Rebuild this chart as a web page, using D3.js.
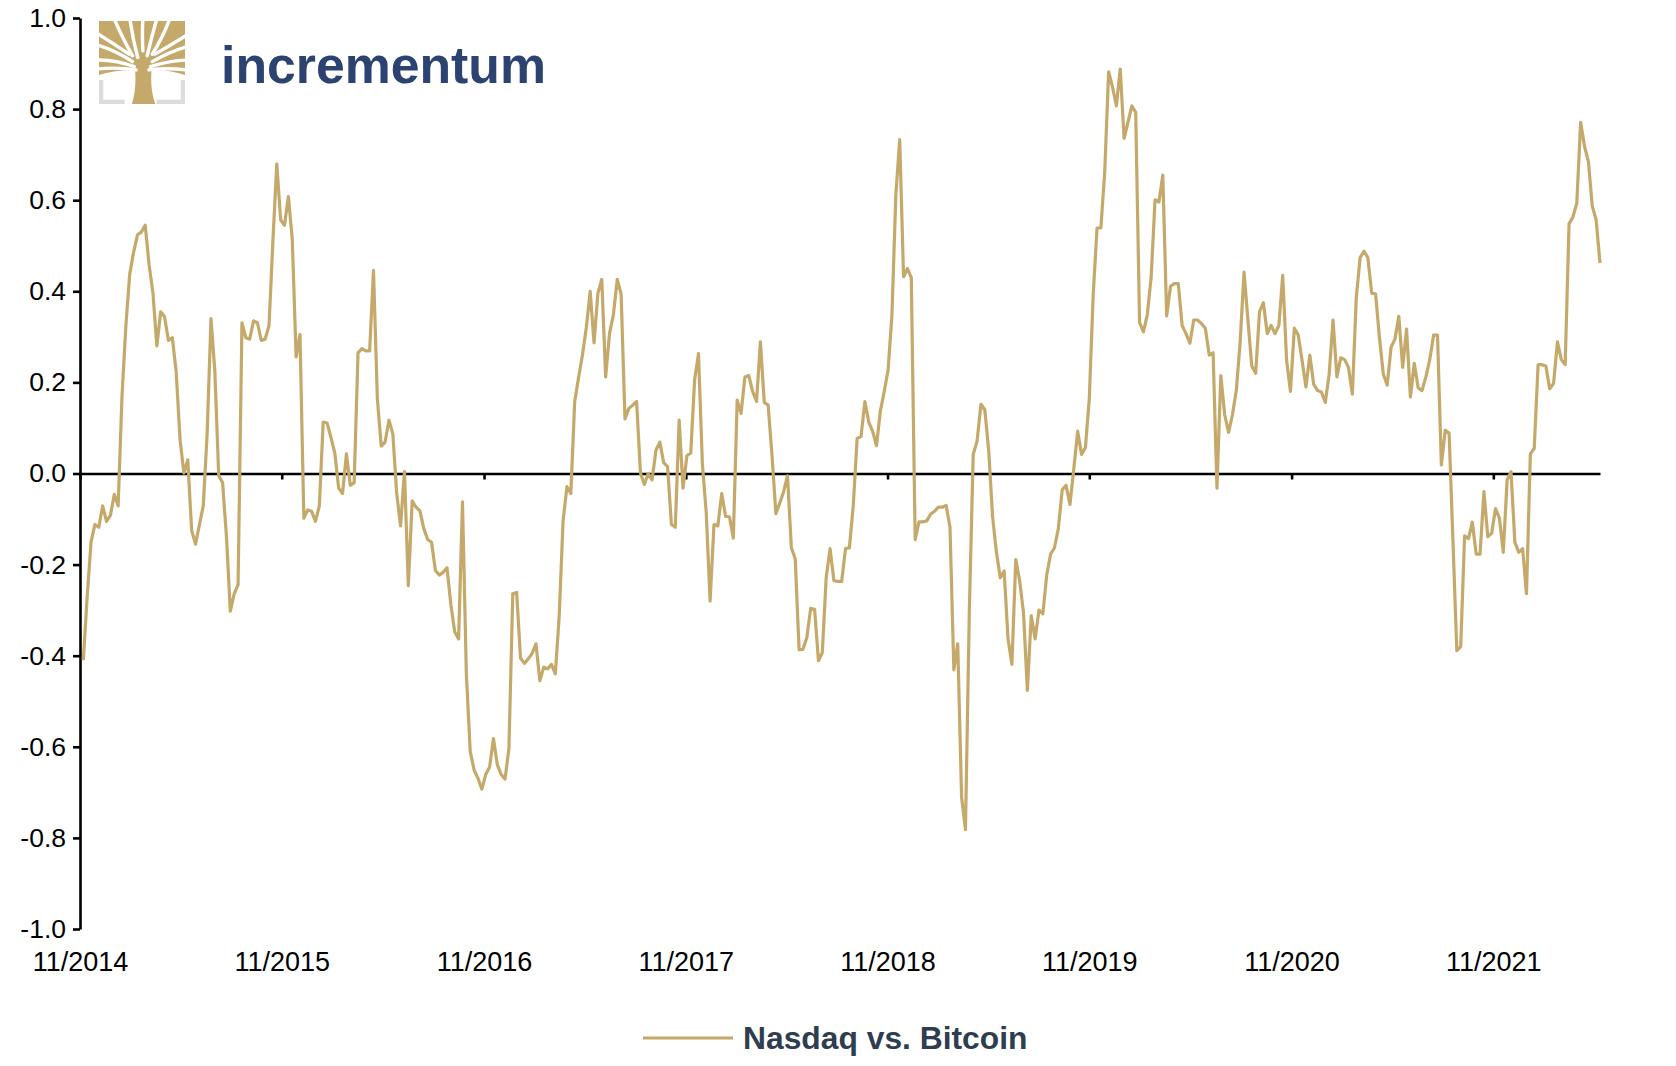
<!DOCTYPE html>
<html>
<head>
<meta charset="utf-8">
<script src="https://cdn.jsdelivr.net/npm/d3@7"></script>
<style>
  html, body { margin: 0; padding: 0; background: #fff; }
  svg { display: block; font-family: "Liberation Sans", Arial, sans-serif; }
</style>
</head>
<body>
<svg id="chart" width="1676" height="1066"></svg>
<script>
// weekly rolling correlation, Nasdaq vs. Bitcoin
const seriesName = "Nasdaq vs. Bitcoin";
const firstWeek = "2014-11-07";
const tickLabels = ["11/2014", "11/2015", "11/2016", "11/2017", "11/2018", "11/2019", "11/2020", "11/2021"];
const yTicks = [1.0, 0.8, 0.6, 0.4, 0.2, 0.0, -0.2, -0.4, -0.6, -0.8, -1.0];

const corr1415 = [-0.41,-0.27,-0.15,-0.112,-0.118,-0.071,-0.105,-0.092,-0.046,-0.071,
  0.17,0.325,0.438,0.486,0.524,0.53,0.545,0.458,0.396,0.28,
  0.355,0.344,0.292,0.298,0.224,0.075,0.001,0.03,-0.125,-0.155,
  -0.113,-0.071,0.087,0.34,0.224,-0.005,-0.02,-0.139,-0.302,-0.264,
  -0.244,0.331,0.298,0.295,0.335,0.331,0.292,0.295,0.325,0.51,
  0.68,0.557];
const corr1516 = [0.545,0.608,0.515,0.256,0.305,-0.098,-0.08,-0.083,-0.105,-0.071,
  0.113,0.111,0.079,0.045,-0.032,-0.044,0.043,-0.026,-0.02,0.265,
  0.274,0.269,0.269,0.446,0.164,0.06,0.069,0.117,0.087,-0.044,
  -0.115,0.004,-0.246,-0.06,-0.074,-0.082,-0.121,-0.145,-0.151,-0.213,
  -0.223,-0.217,-0.207,-0.288,-0.348,-0.363,-0.062,-0.44,-0.61,-0.651,
  -0.669,-0.693];
const corr1617 = [-0.661,-0.645,-0.582,-0.639,-0.661,-0.671,-0.604,-0.264,-0.261,-0.405,
  -0.417,-0.407,-0.395,-0.374,-0.455,-0.425,-0.429,-0.419,-0.44,-0.312,
  -0.104,-0.029,-0.044,0.158,0.21,0.26,0.32,0.4,0.287,0.396,
  0.426,0.212,0.307,0.349,0.426,0.394,0.12,0.143,0.15,0.158,
  0.001,-0.024,0.0,-0.014,0.051,0.069,0.024,0.015,-0.112,-0.118,
  0.117,-0.032];
const corr1718 = [0.039,0.045,0.206,0.263,0.021,-0.086,-0.28,-0.112,-0.115,-0.044,
  -0.094,-0.095,-0.142,0.161,0.132,0.212,0.215,0.18,0.158,0.289,
  0.156,0.15,0.039,-0.088,-0.065,-0.04,-0.005,-0.163,-0.187,-0.387,
  -0.386,-0.36,-0.296,-0.298,-0.411,-0.393,-0.229,-0.165,-0.235,-0.237,
  -0.237,-0.165,-0.163,-0.07,0.077,0.081,0.158,0.113,0.093,0.061,
  0.137,0.18];
const corr1819 = [0.227,0.349,0.611,0.733,0.432,0.45,0.43,-0.145,-0.106,-0.106,
  -0.104,-0.089,-0.083,-0.074,-0.074,-0.07,-0.118,-0.431,-0.374,-0.711,
  -0.782,-0.3,0.042,0.071,0.152,0.14,0.051,-0.094,-0.173,-0.229,
  -0.214,-0.363,-0.419,-0.189,-0.235,-0.306,-0.476,-0.312,-0.363,-0.3,
  -0.308,-0.223,-0.177,-0.163,-0.121,-0.036,-0.026,-0.068,0.01,0.093,
  0.042,0.057];
const corr1920 = [0.164,0.39,0.539,0.539,0.664,0.882,0.849,0.807,0.888,0.736,
  0.771,0.807,0.793,0.331,0.311,0.349,0.432,0.601,0.596,0.655,
  0.346,0.411,0.417,0.417,0.325,0.307,0.286,0.337,0.337,0.329,
  0.319,0.26,0.265,-0.032,0.215,0.129,0.09,0.129,0.182,0.289,
  0.442,0.337,0.236,0.22,0.355,0.375,0.307,0.325,0.307,0.325,
  0.435,0.248];
const corr2021 = [0.18,0.319,0.304,0.248,0.19,0.26,0.196,0.182,0.179,0.156,
  0.218,0.337,0.212,0.254,0.25,0.233,0.174,0.385,0.474,0.488,
  0.474,0.396,0.394,0.298,0.218,0.194,0.277,0.295,0.345,0.233,
  0.317,0.168,0.242,0.188,0.182,0.212,0.25,0.304,0.304,0.019,
  0.095,0.089,-0.15,-0.389,-0.38,-0.137,-0.143,-0.107,-0.177,-0.177,
  -0.04,-0.139];
const corr2122 = [-0.131,-0.077,-0.098,-0.173,-0.014,0.004,-0.151,-0.173,-0.165,-0.264,
  0.043,0.055,0.239,0.239,0.236,0.186,0.198,0.289,0.25,0.239,
  0.548,0.563,0.593,0.771,0.718,0.685,0.587,0.557,0.462];

const corr = [].concat(corr1415, corr1516, corr1617, corr1718, corr1819, corr1920, corr2021, corr2122);

const gold = "#c4a96a";
const svg = d3.select("#chart");

const start = d3.timeParse("%Y-%m-%d")(firstWeek);
const parseTick = d3.timeParse("%m/%Y");
const data = corr.map((v, i) => ({ date: d3.timeWeek.offset(start, i), value: v }));
const tickDates = tickLabels.map(parseTick);

const x = d3.scaleTime()
  .domain([tickDates[0], data[data.length - 1].date])
  .range([80, 1600]);
const y = d3.scaleLinear().domain([-1, 1]).range([929, 18]);

// y axis
const yAxis = svg.append("g")
  .attr("transform", "translate(80,0)")
  .call(d3.axisLeft(y).tickValues(yTicks).tickSize(7).tickSizeOuter(0).tickPadding(7)
    .tickFormat(d => d.toFixed(1)));
yAxis.select(".domain").attr("stroke", "#000").attr("stroke-width", 2.6);
yAxis.selectAll(".tick line").attr("stroke", "#000").attr("stroke-width", 2.6);
yAxis.selectAll(".tick text").attr("fill", "#000").attr("font-size", 26.5)
  .attr("font-family", "Liberation Sans, Arial, sans-serif");

// zero line with small ticks
const xAxis = svg.append("g")
  .attr("transform", `translate(0,${y(0)})`)
  .call(d3.axisBottom(x).tickValues(tickDates).tickSize(6).tickSizeOuter(0).tickFormat(""));
xAxis.select(".domain").attr("stroke", "#000").attr("stroke-width", 2.6);
xAxis.selectAll(".tick line").attr("stroke", "#000").attr("stroke-width", 2.6);

// date labels at bottom
const xLabels = svg.append("g")
  .attr("transform", `translate(0,${y(-1)})`)
  .call(d3.axisBottom(x).tickValues(tickDates).tickSize(0).tickPadding(23)
    .tickFormat((d, i) => tickLabels[i]));
xLabels.select(".domain").remove();
xLabels.selectAll(".tick text").attr("fill", "#000").attr("font-size", 27)
  .attr("font-family", "Liberation Sans, Arial, sans-serif");

// the series
const line = d3.line().x(d => x(d.date)).y(d => y(d.value));
svg.append("path")
  .datum(data)
  .attr("fill", "none")
  .attr("stroke", gold)
  .attr("stroke-width", 3.2)
  .attr("stroke-linejoin", "round")
  .attr("d", line);

// logo: gold tree with white cuts, grey corner brackets
const logo = svg.append("g").attr("transform", "translate(99,21) scale(0.86,0.83)");
logo.append("clipPath").attr("id", "logoClip")
  .append("rect").attr("width", 100).attr("height", 100);
const tree = logo.append("g").attr("clip-path", "url(#logoClip)");
tree.append("path")
  .attr("d", "M2.5,71 V97.5 H30 M97.5,71 V97.5 H67")
  .attr("fill", "none").attr("stroke", "#dcdcdc").attr("stroke-width", 5);
tree.append("path")
  .attr("d", "M0,0 H100 V65 C86,61 72,58 61,60 C60,74 61,88 66,101 H38 C42,88 43,74 42,60 C31,58 14,61 0,65 Z")
  .attr("fill", gold);
const cuts = [
  "M39,42 Q26,18 18,-2", "M45,44 Q39,20 36,-2", "M51,36 Q50,15 51,-2",
  "M56,42 Q61,20 67,-2", "M62,40 Q75,18 82,-2",
  "M35,40 Q15,26 -2,15", "M39,49 Q18,35 -2,29", "M41,55 Q20,47 -2,47", "M43,59 Q20,55 -2,58",
  "M65,40 Q85,28 102,17", "M62,49 Q82,37 102,31", "M60,55 Q80,48 102,47", "M58,59 Q80,56 102,59"
];
tree.selectAll("path.cut").data(cuts).enter().append("path")
  .attr("class", "cut")
  .attr("d", d => d)
  .attr("fill", "none")
  .attr("stroke", "#fff")
  .attr("stroke-width", 4)
  .attr("stroke-linecap", "round");

svg.append("text")
  .attr("x", 221).attr("y", 83)
  .attr("font-size", 52).attr("font-weight", "bold")
  .attr("fill", "#2c4270")
  .attr("textLength", 325).attr("lengthAdjust", "spacingAndGlyphs")
  .text("incrementum");

// legend
const legend = svg.append("g");
legend.append("line")
  .attr("x1", 643).attr("x2", 733).attr("y1", 1038).attr("y2", 1038)
  .attr("stroke", gold).attr("stroke-width", 3);
legend.append("text")
  .attr("x", 743).attr("y", 1049)
  .attr("font-size", 31.8).attr("font-weight", "bold")
  .attr("fill", "#2e3e50")
  .text(seriesName);
</script>
</body>
</html>
